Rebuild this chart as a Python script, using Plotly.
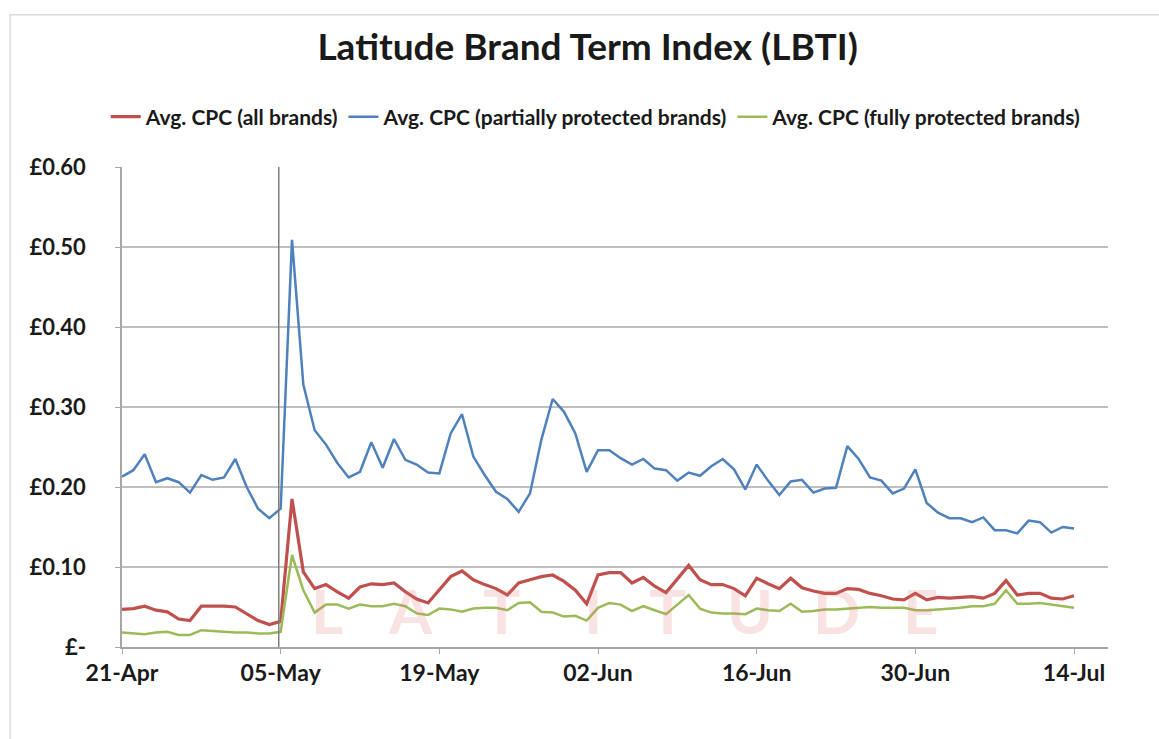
import pandas as pd
import plotly.graph_objects as go

# ---------------- data ----------------
start_date = "2014-04-21"

all_brands = [0.047, 0.048, 0.051, 0.046, 0.044, 0.035, 0.033, 0.051, 0.051, 0.051,
              0.050, 0.042, 0.033, 0.028, 0.032, 0.185, 0.094, 0.073, 0.078, 0.069,
              0.061, 0.075, 0.079, 0.078, 0.080, 0.069, 0.060, 0.055, 0.071, 0.088,
              0.095, 0.084, 0.078, 0.073, 0.065, 0.080, 0.084, 0.088, 0.090, 0.082,
              0.071, 0.054, 0.090, 0.093, 0.093, 0.080, 0.087, 0.076, 0.068, 0.085,
              0.102, 0.084, 0.078, 0.078, 0.073, 0.064, 0.086, 0.079, 0.073, 0.086,
              0.074, 0.070, 0.067, 0.067, 0.073, 0.072, 0.067, 0.064, 0.060, 0.059,
              0.067, 0.059, 0.062, 0.061, 0.062, 0.063, 0.061, 0.067, 0.083, 0.065,
              0.067, 0.067, 0.061, 0.060, 0.064]

partially_protected = [0.213, 0.221, 0.241, 0.206, 0.211, 0.206, 0.193, 0.215, 0.209, 0.212,
                       0.235, 0.200, 0.173, 0.161, 0.173, 0.509, 0.328, 0.271, 0.253, 0.230,
                       0.212, 0.219, 0.256, 0.224, 0.260, 0.234, 0.228, 0.218, 0.217, 0.267,
                       0.291, 0.238, 0.215, 0.194, 0.185, 0.169, 0.192, 0.259, 0.310, 0.294,
                       0.267, 0.219, 0.246, 0.246, 0.236, 0.228, 0.235, 0.223, 0.221, 0.208,
                       0.218, 0.214, 0.226, 0.235, 0.222, 0.197, 0.228, 0.208, 0.190, 0.207,
                       0.209, 0.193, 0.198, 0.199, 0.251, 0.235, 0.212, 0.208, 0.192, 0.198,
                       0.222, 0.180, 0.168, 0.161, 0.161, 0.156, 0.162, 0.146, 0.146, 0.142,
                       0.158, 0.156, 0.143, 0.150, 0.148]

fully_protected = [0.018, 0.017, 0.016, 0.018, 0.019, 0.015, 0.015, 0.021, 0.020, 0.019,
                   0.018, 0.018, 0.017, 0.017, 0.019, 0.115, 0.071, 0.043, 0.053, 0.053,
                   0.048, 0.053, 0.051, 0.051, 0.054, 0.051, 0.042, 0.040, 0.048, 0.047,
                   0.044, 0.048, 0.049, 0.049, 0.046, 0.055, 0.056, 0.044, 0.043, 0.038,
                   0.039, 0.033, 0.049, 0.055, 0.053, 0.045, 0.051, 0.046, 0.041, 0.053,
                   0.065, 0.048, 0.043, 0.042, 0.042, 0.041, 0.048, 0.046, 0.045, 0.054,
                   0.044, 0.045, 0.047, 0.047, 0.048, 0.049, 0.050, 0.049, 0.049, 0.049,
                   0.046, 0.046, 0.047, 0.048, 0.049, 0.051, 0.051, 0.054, 0.071, 0.054,
                   0.054, 0.055, 0.053, 0.051, 0.049]

series_names = ["Avg. CPC (all brands)",
                "Avg. CPC (partially protected brands)",
                "Avg. CPC (fully protected brands)"]

x_tick_dates = ["2014-04-21", "2014-05-05", "2014-05-19", "2014-06-02",
                "2014-06-16", "2014-06-30", "2014-07-14"]
x_tick_labels = ["21-Apr", "05-May", "19-May", "02-Jun", "16-Jun", "30-Jun", "14-Jul"]

y_tick_vals = [0, 0.1, 0.2, 0.3, 0.4, 0.5, 0.6]
y_tick_labels = ["£-", "£0.10", "£0.20", "£0.30", "£0.40", "£0.50", "£0.60"]

event_date = "2014-05-04 20:00"
x_range_end = "2014-07-17"

dates = pd.date_range(start_date, periods=len(all_brands))

# ---------------- figure ----------------
FONT = "Lato"
TXT = "#1a1a1a"
colors = ["#C0504D", "#4F81BD", "#9BBB59"]
widths = [3.2, 2.5, 2.5]

fig = go.Figure()
for name, vals, col, w in zip(series_names,
                              [all_brands, partially_protected, fully_protected],
                              colors, widths):
    fig.add_trace(go.Scatter(x=dates, y=vals, mode="lines", name=name,
                             line=dict(color=col, width=w)))

# watermark letters (faint)
wm_letters = ["L", "A", "T", "I", "T", "U", "D", "E"]
wm_x = [0.208, 0.293, 0.385, 0.478, 0.553, 0.637, 0.725, 0.81]
annotations = []
for ch, xp in zip(wm_letters, wm_x):
    annotations.append(dict(text="<b>" + ch + "</b>", x=xp, y=-0.005, xref="paper", yref="paper",
                            xanchor="center", yanchor="bottom", showarrow=False,
                            font=dict(family=FONT, size=62, color="rgba(225,110,110,0.2)")))

fig.update_layout(
    width=1159, height=739,
    paper_bgcolor="white", plot_bgcolor="white",
    margin=dict(l=122, r=51, t=167, b=92, autoexpand=False),
    title=dict(text="<b>Latitude Brand Term Index (LBTI)</b>",
               x=0.507, xanchor="center", y=1 - 47 / 739, yanchor="middle",
               font=dict(family=FONT, size=37, color=TXT)),
    showlegend=True,
    legend=dict(orientation="h", xref="container", x=0.514, xanchor="center",
                yref="container", y=1 - 117 / 739, yanchor="middle",
                font=dict(family=FONT, size=21, color=TXT, weight="bold"),
                itemwidth=30, bgcolor="rgba(0,0,0,0)"),
    xaxis=dict(type="date", range=[start_date, x_range_end],
               tickvals=x_tick_dates, ticktext=x_tick_labels, tickangle=0,
               showgrid=False, showline=True, linecolor="#a6a6a6", linewidth=1.5,
               ticks="outside", ticklen=5, tickcolor="#a6a6a6",
               tickfont=dict(family=FONT, size=23, color=TXT, weight="bold"),
               zeroline=False),
    yaxis=dict(range=[0, 0.6], tickvals=y_tick_vals, ticktext=y_tick_labels,
               showgrid=True, gridcolor="#bfbfbf", gridwidth=1.5,
               showline=True, linecolor="#a6a6a6", linewidth=1.5,
               ticks="outside", ticklen=5, tickcolor="#a6a6a6",
               tickfont=dict(family=FONT, size=22, color=TXT, weight="bold"),
               zeroline=False, ticklabelstandoff=25),
    annotations=annotations,
    shapes=[
        dict(type="line", xref="x", yref="paper", x0=event_date, x1=event_date,
             y0=0, y1=1, line=dict(color="#7f7f7f", width=1.5)),
        dict(type="rect", xref="paper", yref="paper", x0=-0.1136, x1=1.06,
             y0=-0.21, y1=1.317, line=dict(color="#d9d9d9", width=1.5),
             fillcolor="rgba(0,0,0,0)", layer="below"),
    ],
)

fig.write_html("out.html", config={"displayModeBar": False},
               post_script="document.body.style.margin='0px';")
